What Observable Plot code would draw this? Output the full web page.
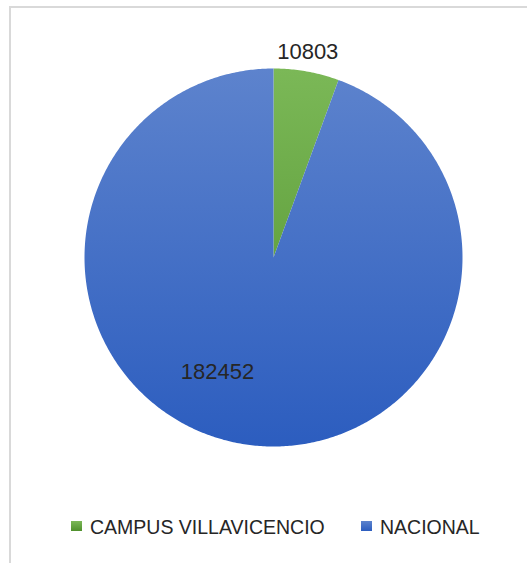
<!DOCTYPE html>
<html>
<head>
<meta charset="utf-8">
<script src="https://cdn.jsdelivr.net/npm/d3@7"></script>
<script src="https://cdn.jsdelivr.net/npm/@observablehq/plot@0.6"></script>
<style>
  html, body { margin: 0; padding: 0; background: #fff; }
  #wrap { position: relative; width: 527px; height: 563px; overflow: hidden; font-family: "Liberation Sans", Arial, sans-serif; }
  #border { position: absolute; left: 9px; top: 6px; right: -10px; bottom: -10px; border-left: 2px solid #d9d9d9; border-top: 2px solid #d9d9d9; }
  #chart { position: absolute; left: 0; top: 0; }
  #legend { position: absolute; left: 0; top: 515px; width: 527px; height: 24px; color: #262626; font-size: 19.5px; }
  .item { position: absolute; top: 0; white-space: nowrap; line-height: 24px; }
  .sw { position: absolute; width: 11px; height: 10px; top: 6px; }
</style>
</head>
<body>
<div id="wrap">
  <div id="border"></div>
  <div id="chart"></div>
  <div id="legend"></div>
</div>
<script>
// ---- data ----
const categories = ["CAMPUS VILLAVICENCIO", "NACIONAL"];
const values = [10803, 182452];
const labels = ["10803", "182452"];

// ---- layout / style ----
const gradients = [
  {id: "gGreen", top: "#7bb857", bottom: "#4f902c"},
  {id: "gBlue", top: "#5d83cd", bottom: "#2c5dbf"}
];
const labelPlacement = [{r: 1.1, dAngle: -0.01}, {r: 0.676, dAngle: 0.278}];
const legendPos = [{sw: 71, text: 90}, {sw: 361, text: 380}];

const pie = d3.pie().sort(null).value(d => d.value)(categories.map((c, i) => ({name: c, value: values[i], i})));

const slicePts = [];
pie.forEach(a => {
  const n = Math.max(2, Math.ceil((a.endAngle - a.startAngle) / 0.01));
  slicePts.push({slice: a.data.name, i: a.data.i, x: 0, y: 0});
  for (let k = 0; k <= n; k++) {
    const t = a.startAngle + (a.endAngle - a.startAngle) * k / n;
    slicePts.push({slice: a.data.name, i: a.data.i, x: Math.sin(t), y: Math.cos(t)});
  }
  slicePts.push({slice: a.data.name, i: a.data.i, x: 0, y: 0});
});

const labelPts = pie.map((a, i) => {
  const t = (a.startAngle + a.endAngle) / 2 + labelPlacement[i].dAngle;
  const r = labelPlacement[i].r;
  return {text: labels[i], x: Math.sin(t) * r, y: Math.cos(t) * r};
});

const marks = pie.map((a, i) =>
  Plot.line(slicePts.filter(d => d.i === i), {x: "x", y: "y", fill: `url(#${gradients[i].id})`, stroke: "none", curve: "linear"})
);
marks.push(Plot.text(labelPts, {x: "x", y: "y", text: "text", fontSize: 22, fill: "#262626", fontFamily: "Liberation Sans, Arial, sans-serif"}));

const plot = Plot.plot({
  width: 527,
  height: 563,
  marginLeft: 84,
  marginRight: 65,
  marginTop: 68,
  marginBottom: 117,
  x: {domain: [-1, 1], axis: null},
  y: {domain: [-1, 1], axis: null},
  style: {background: "transparent", overflow: "visible"},
  marks
});

const ns = "http://www.w3.org/2000/svg";
const defs = document.createElementNS(ns, "defs");
gradients.forEach(g => {
  const lg = document.createElementNS(ns, "linearGradient");
  lg.setAttribute("id", g.id);
  lg.setAttribute("gradientUnits", "userSpaceOnUse");
  lg.setAttribute("x1", 0); lg.setAttribute("x2", 0);
  lg.setAttribute("y1", 68); lg.setAttribute("y2", 446);
  [[0, g.top], [1, g.bottom]].forEach(([o, c]) => {
    const s = document.createElementNS(ns, "stop");
    s.setAttribute("offset", o);
    s.setAttribute("stop-color", c);
    lg.appendChild(s);
  });
  defs.appendChild(lg);
});
plot.insertBefore(defs, plot.firstChild);
document.getElementById("chart").appendChild(plot);

const legend = document.getElementById("legend");
categories.forEach((c, i) => {
  const sw = document.createElement("div");
  sw.className = "sw";
  sw.style.left = legendPos[i].sw + "px";
  sw.style.background = `linear-gradient(${gradients[i].top}, ${gradients[i].bottom})`;
  legend.appendChild(sw);
  const t = document.createElement("div");
  t.className = "item";
  t.style.left = legendPos[i].text + "px";
  t.textContent = c;
  legend.appendChild(t);
});
</script>
</body>
</html>
